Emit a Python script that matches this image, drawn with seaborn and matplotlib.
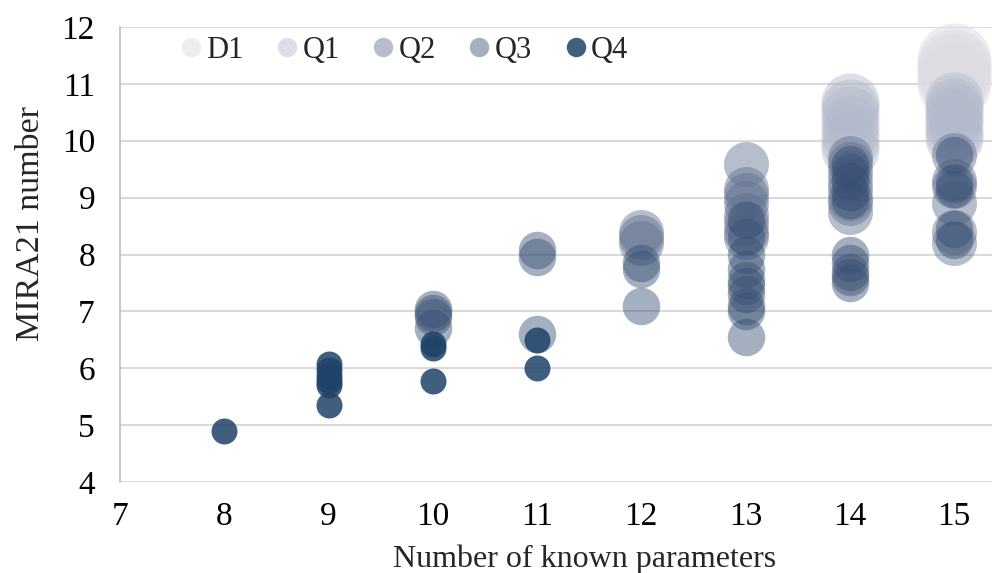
import pandas as pd
import matplotlib
matplotlib.use("Agg")
import matplotlib.pyplot as plt
from matplotlib.lines import Line2D
import seaborn as sns

#%% Data (x = number of known parameters, y = MIRA21 number)

groups = ["D1", "Q1", "Q2", "Q3", "Q4"]

d1_x = [15, 15, 15, 15, 15]
d1_y = [11.42, 11.32, 11.22, 11.12, 11.02]

q1_x = [14, 14, 14, 14, 14, 14, 14, 15, 15, 15, 15, 15, 15, 15]
q1_y = [10.68, 10.58, 10.45, 10.3, 10.15, 10.0, 9.85,
        10.7, 10.6, 10.5, 10.4, 10.3, 10.15, 10.05]

q2_x = [12, 12, 12,
        13, 13, 13, 13, 13, 13, 13, 13,
        14, 14, 14, 14, 14, 14, 14, 14,
        15, 15, 15, 15, 15, 15]
q2_y = [8.4, 8.3, 8.2,
        9.6, 9.15, 9.05, 8.9, 8.7, 8.55, 8.4, 8.3,
        9.7, 9.6, 9.45, 9.3, 9.15, 9.0, 8.9, 8.75,
        9.75, 9.3, 9.2, 8.9, 8.4, 8.2]

q3_x = [10, 10, 10, 10,
        11, 11, 11,
        12, 12, 12,
        13, 13, 13, 13, 13, 13, 13, 13, 13, 13,
        14, 14, 14, 14, 14, 14, 14, 14, 14, 14,
        15, 15, 15, 15, 15]
q3_y = [7.05, 6.97, 6.9, 6.7,
        8.08, 7.95, 6.6,
        7.85, 7.75, 7.1,
        8.6, 8.3, 8.0, 7.75, 7.55, 7.45, 7.3, 7.1, 7.0, 6.55,
        9.6, 9.45, 9.3, 9.1, 8.95, 8.0, 7.85, 7.7, 7.6, 7.5,
        9.75, 9.25, 9.15, 8.45, 8.25]

q4_x = [8, 9, 9, 9, 9, 9, 9, 10, 10, 10, 11, 11]
q4_y = [4.9, 6.07, 5.97, 5.87, 5.78, 5.7, 5.36, 6.42, 6.36, 5.78, 6.5, 6.0]

#%% Builds one long table

frames = []
for name, xs, ys in zip(groups, [d1_x, q1_x, q2_x, q3_x, q4_x],
                        [d1_y, q1_y, q2_y, q3_y, q4_y]):
    frames.append(pd.DataFrame({"params": xs, "mira": ys, "group": name}))
bubbles = pd.concat(frames, ignore_index=True)

#%% Style

sns.set_theme(style="white")
plt.rcParams["font.family"] = ["Liberation Serif", "DejaVu Serif"]

colors = {"D1": "#DBDDE3", "Q1": "#B2B9CA", "Q2": "#5F6F8E",
          "Q3": "#374E73", "Q4": "#1E4268"}
alphas = {"D1": 0.5, "Q1": 0.45, "Q2": 0.45, "Q3": 0.45, "Q4": 0.85}
sizes = {"D1": 2840, "Q1": 1744, "Q2": 1050, "Q3": 729, "Q4": 350}

fig = plt.figure(figsize=(9.92, 5.73), dpi=100)
ax = fig.add_axes([120 / 992, 91 / 573, 872 / 992, 455 / 573])

#%% Bubbles, back to front in series order

for g in groups:
    sub = bubbles[bubbles["group"] == g]
    sns.scatterplot(data=sub, x="params", y="mira", ax=ax, color=colors[g],
                    alpha=alphas[g], s=sizes[g], linewidth=0, legend=False,
                    clip_on=False, zorder=3)

ax.set_xlim(7, 7 + 872 / 104.25)
ax.set_ylim(4, 12)
ax.set_xticks(range(7, 16))
ax.set_yticks(range(4, 13))
ax.grid(axis="y", color="#D9D9D9", linewidth=1.5)
ax.set_axisbelow(True)
for side in ["top", "right", "bottom"]:
    ax.spines[side].set_visible(False)
ax.spines["left"].set_color("#BFBFBF")
ax.spines["left"].set_linewidth(1.2)
ax.tick_params(axis="both", length=0, labelsize=24, colors="black")
ax.tick_params(axis="y", pad=18)
ax.tick_params(axis="x", pad=14)

ax.set_xlabel("Number of known parameters", fontsize=23)
ax.set_ylabel("MIRA21 number", fontsize=24.5)
ax.xaxis.set_label_coords(0.533, -0.138)
ax.yaxis.set_label_coords(-0.085, 0.567)

#%% Legend

handles = [Line2D([0], [0], marker="o", linestyle="", markersize=14,
                  markerfacecolor=colors[g], markeredgewidth=0, alpha=alphas[g])
           for g in groups]
ax.legend(handles, groups, loc="center left", bbox_to_anchor=(0.0688, 0.948),
          ncol=5, frameon=False, fontsize=22, handlelength=0.7,
          handletextpad=0.15, columnspacing=1.08, borderpad=0, borderaxespad=0)

fig.savefig("out.png", dpi=100)
